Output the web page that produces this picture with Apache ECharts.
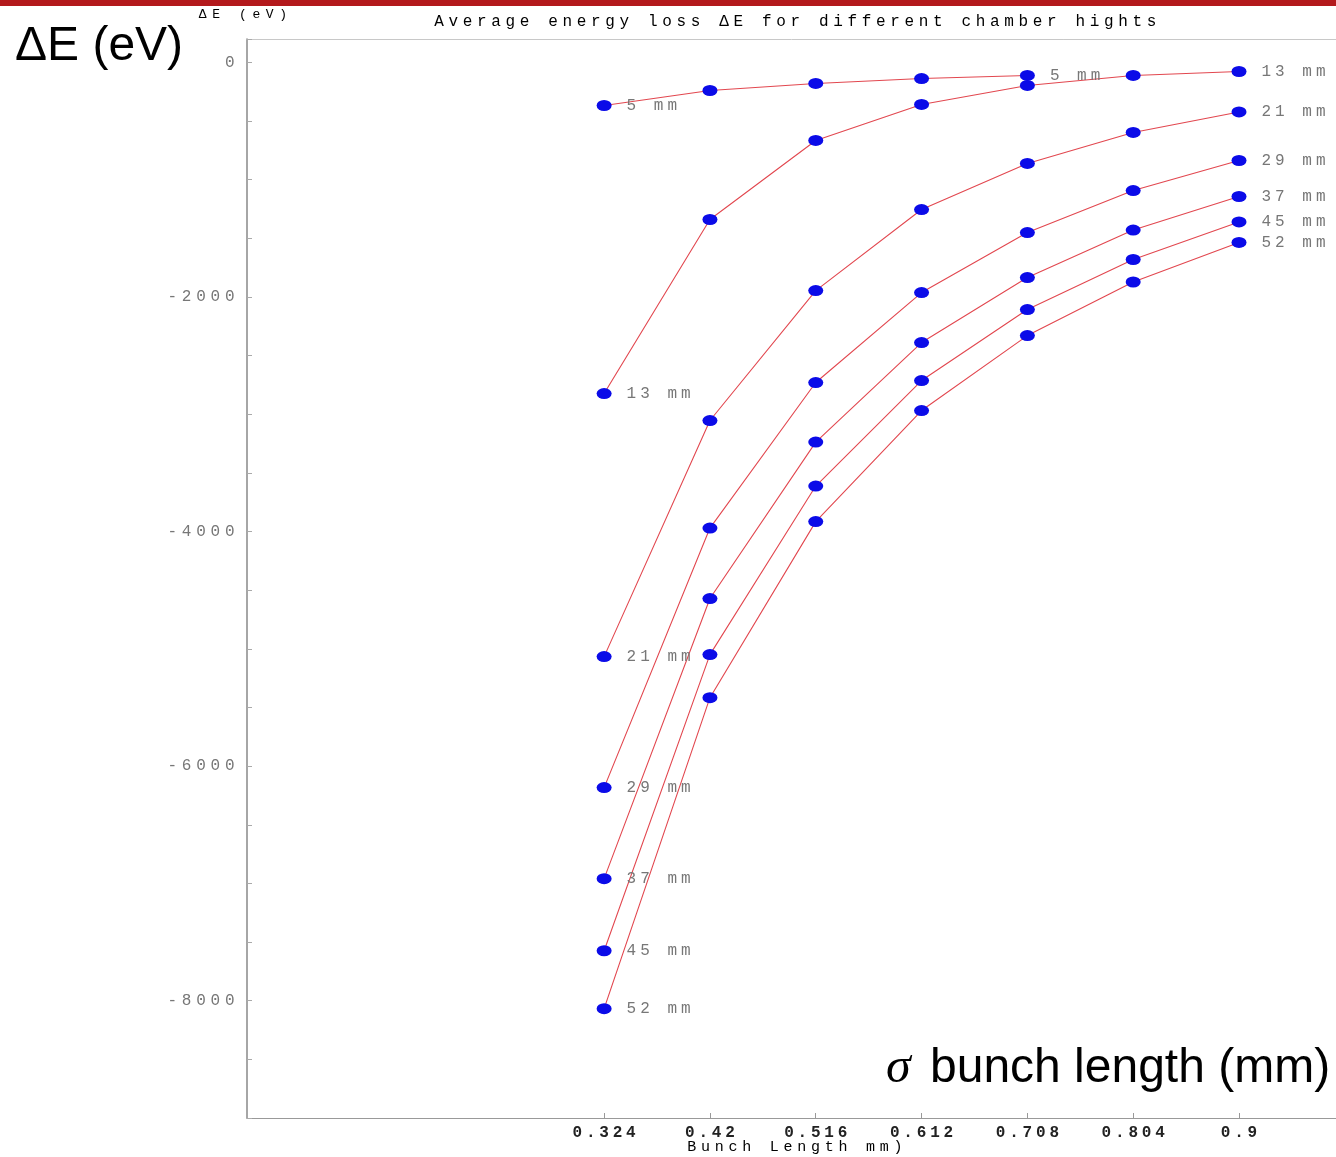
<!DOCTYPE html>
<html>
<head>
<meta charset="utf-8">
<script src="https://cdn.jsdelivr.net/npm/echarts@6/dist/echarts.min.js"></script>
<style>html,body{margin:0;padding:0;background:#fff}#c{width:1336px;height:1157px}</style>
</head>
<body>
<div id="c"></div>
<script>
// ---- data ----
const xTicks = [0.324, 0.42, 0.516, 0.612, 0.708, 0.804, 0.9];
const yLabelValues = [0, -2000, -4000, -6000, -8000];
const seriesNames = ['5 mm', '13 mm', '21 mm', '29 mm', '37 mm', '45 mm', '52 mm'];
const h5  = [-367, -239, -179, -137, -111];
const h13 = [-2823, -1339, -665, -358, -196, -111, -77];
const h21 = [-5066, -3053, -1945, -1254, -861, -597, -422];
const h29 = [-6183, -3970, -2729, -1962, -1450, -1092, -836];
const h37 = [-6959, -4571, -3237, -2388, -1834, -1429, -1143];
const h45 = [-7574, -5049, -3612, -2712, -2107, -1680, -1360];
const h52 = [-8068, -5416, -3915, -2968, -2329, -1872, -1535];
const allSeries = [h5, h13, h21, h29, h37, h45, h52];
const titleText = 'Average energy loss \u0394E for different chamber hights';
const xName = 'Bunch Length mm)';
const yName = '\u0394E (eV)';

function spaced(str, key) {
  return str.split('').map(c => '{' + key + '|' + c + '}').join('');
}
const mono = 'Liberation Mono';

const chart = echarts.init(document.getElementById('c'), null, {renderer: 'canvas'});

const series = allSeries.map((vals, si) => ({
  type: 'line',
  name: seriesNames[si],
  data: vals.map((v, i) => ({
    value: [xTicks[i], v],
    label: (i === 0 || i === vals.length - 1) ? {show: true} : {show: false}
  })),
  symbol: 'circle',
  symbolSize: [15, 11],
  itemStyle: {color: '#0b0be8'},
  lineStyle: {color: '#e2474f', width: 1.1},
  label: {
    show: false,
    position: 'right',
    distance: 13,
    formatter: () => spaced(seriesNames[si], 's'),
    rich: {s: {width: 13.6, align: 'center', fontFamily: mono, fontSize: 16, color: '#777'}}
  },
  emphasis: {disabled: true},
  animation: false,
  z: 3
}));

chart.setOption({
  animation: false,
  backgroundColor: '#ffffff',
  grid: {left: 247, top: 39, right: 0, height: 1079, show: false},
  xAxis: [{
    type: 'value', min: 0, max: 0.988,
    axisLine: {show: true, onZero: false, lineStyle: {color: '#999', width: 1.2}},
    splitLine: {show: false},
    axisTick: {show: true, inside: true, length: 5, customValues: xTicks, lineStyle: {color: '#999'}},
    axisLabel: {
      show: true, margin: 7, customValues: xTicks,
      formatter: v => spaced(String(v), 'x'),
      rich: {x: {width: 13.4, align: 'center', fontFamily: mono, fontWeight: 'bold', fontSize: 16, color: '#222'}}
    }
  }, {
    type: 'value', position: 'top', min: 0, max: 0.988,
    axisLine: {show: true, onZero: false, lineStyle: {color: '#c8c8c8', width: 1}},
    splitLine: {show: false}, axisTick: {show: false}, axisLabel: {show: false}
  }],
  yAxis: {
    type: 'value', min: -9000, max: 200, interval: 500,
    axisLine: {show: true, lineStyle: {color: '#888', width: 1.5}},
    splitLine: {show: false},
    axisTick: {show: true, inside: true, length: 5, lineStyle: {color: '#aaa'}},
    axisLabel: {
      show: true, margin: 10,
      formatter: v => (yLabelValues.indexOf(v) >= 0 ? spaced(String(v), 'y') : ''),
      rich: {y: {width: 14.4, align: 'center', fontFamily: mono, fontSize: 16, color: '#777'}}
    }
  },
  series: series,
  graphic: [
    {type: 'rect', shape: {x: 0, y: 0, width: 1336, height: 6}, style: {fill: '#b3191c'}, z: 10},
    {type: 'text', x: 432, y: 22, z: 10,
     style: {text: spaced(titleText, 't'), verticalAlign: 'middle', align: 'left',
             rich: {t: {width: 14.25, align: 'center', fontFamily: mono, fontSize: 16, color: '#666'}}}},
    {type: 'text', x: 196, y: 15, z: 10,
     style: {text: spaced(yName, 'n'), verticalAlign: 'middle', align: 'left',
             rich: {n: {width: 13.4, align: 'center', fontFamily: mono, fontSize: 13, color: '#777'}}}},
    {type: 'text', x: 685, y: 1147, z: 10,
     style: {text: spaced(xName, 'b'), verticalAlign: 'middle', align: 'left',
             rich: {b: {width: 13.75, align: 'center', fontFamily: mono, fontSize: 15, color: '#777'}}}},
    {type: 'text', x: 15, y: 47, z: 10,
     style: {text: '\u0394E (eV)', fontFamily: 'Liberation Sans', fontSize: 48, fill: '#000',
             verticalAlign: 'middle', align: 'left'}},
    {type: 'text', x: 886, y: 1069, z: 10,
     style: {text: '{s|\u03c3}{r| bunch length (mm)}', verticalAlign: 'middle', align: 'left',
             rich: {s: {fontFamily: 'Liberation Serif', fontStyle: 'italic', fontSize: 50, color: '#000', padding: [0, 6, 0, 0]},
                    r: {fontFamily: 'Liberation Sans', fontSize: 48, color: '#000'}}}}
  ]
});
</script>
</body>
</html>
